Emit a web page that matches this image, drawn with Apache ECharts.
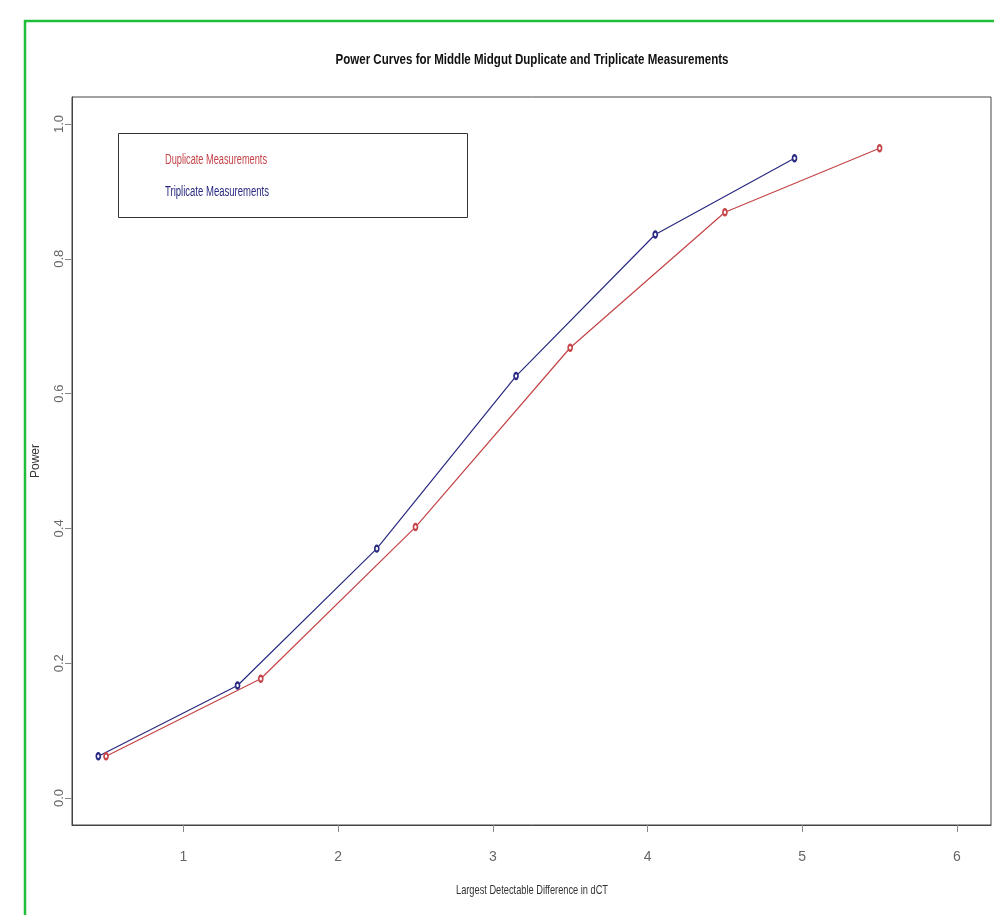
<!DOCTYPE html>
<html><head><meta charset="utf-8">
<script src="https://cdn.jsdelivr.net/npm/echarts@6/dist/echarts.min.js"></script>
<style>html,body{margin:0;padding:0;background:#fff}#c{width:994px;height:915px}</style>
</head><body><div id="c"></div>
<script>
const titleText = 'Power Curves for Middle Midgut Duplicate and Triplicate Measurements';
const xTicks = [1, 2, 3, 4, 5, 6];
const yTicks = [0, 0.2, 0.4, 0.6, 0.8, 1.0];
const dupX = [0.5, 1.5, 2.5, 3.5, 4.5, 5.5];
const dupY = [0.062, 0.177, 0.402, 0.668, 0.869, 0.964];
const triX = [0.45, 1.35, 2.25, 3.15, 4.05, 4.95];
const triY = [0.062, 0.167, 0.370, 0.626, 0.836, 0.949];
const seriesNames = ['Duplicate Measurements', 'Triplicate Measurements'];
const xName = 'Largest Detectable Difference in dCT';
const yName = 'Power';

const RED = '#c44448', BLUE = '#2a2a82';
const FONT = '"Liberation Sans", Arial, sans-serif';
const ctx = document.createElement('canvas').getContext('2d');
function fitScale(text, weight, size, target) {
  ctx.font = weight + ' ' + size + 'px "Liberation Sans", Arial, sans-serif';
  return target / ctx.measureText(text).width;
}
function squeezedText(text, x, y, opts) {
  const weight = opts.weight || 'normal';
  const sc = fitScale(text, weight, opts.size, opts.width);
  return {type: 'text', x: x, y: y, scaleX: sc, silent: true,
    style: {text: text, fontFamily: FONT, fontWeight: weight, fontSize: opts.size,
      fill: opts.color, textAlign: opts.align || 'left', textVerticalAlign: 'middle'}};
}

const chart = echarts.init(document.getElementById('c'), null, {renderer: 'canvas'});
const pair = (xs, ys) => xs.map((x, i) => [x, ys[i]]);
chart.setOption({
  animation: false,
  backgroundColor: '#fff',
  grid: {left: 72, top: 97, right: 3, bottom: 90, show: true, borderColor: '#444', borderWidth: 1, backgroundColor: 'transparent'},
  graphic: [
    {type: 'rect', shape: {x: 25, y: 21, width: 1100, height: 1000}, style: {fill: 'none', stroke: '#1fbf3a', lineWidth: 2.5}, silent: true},
    {type: 'rect', shape: {x: 118.5, y: 133.5, width: 349, height: 84}, style: {fill: 'none', stroke: '#333', lineWidth: 1}, silent: true},
    squeezedText(titleText, 532, 60, {weight: 'bold', size: 15, width: 393, color: '#111', align: 'center'}),
    squeezedText(seriesNames[0], 165, 160, {size: 14, width: 102, color: RED}),
    squeezedText(seriesNames[1], 165, 192, {size: 14, width: 104, color: BLUE}),
    squeezedText(xName, 532, 890, {size: 13, width: 152, color: '#333', align: 'center'})
  ],
  xAxis: {
    type: 'value', min: 0.28, max: 6.22,
    axisLine: {show: true, onZero: false, lineStyle: {color: '#444'}},
    axisTick: {show: true, length: 7, lineStyle: {color: '#888'}, customValues: xTicks},
    axisLabel: {customValues: xTicks, margin: 25, fontFamily: FONT, fontSize: 14, color: '#666'},
    splitLine: {show: false}
  },
  yAxis: {
    type: 'value', min: -0.04, max: 1.04,
    name: yName, nameLocation: 'middle', nameGap: 30, nameRotate: 90,
    nameTextStyle: {fontFamily: FONT, fontSize: 12, color: '#333'},
    axisLine: {show: true, onZero: false, lineStyle: {color: '#444'}},
    axisTick: {show: true, length: 7, lineStyle: {color: '#888'}, customValues: yTicks},
    axisLabel: {customValues: yTicks, rotate: 90, align: 'center', verticalAlign: 'bottom', margin: 6,
      fontFamily: FONT, fontSize: 13, color: '#666',
      formatter: v => v.toFixed(1)},
    splitLine: {show: false}
  },
  series: [
    {name: seriesNames[0], type: 'line', data: pair(dupX, dupY), symbol: 'emptyCircle', symbolSize: [4, 6],
      lineStyle: {color: RED, width: 1.2}, itemStyle: {color: RED, borderWidth: 0.7}},
    {name: seriesNames[1], type: 'line', data: pair(triX, triY), symbol: 'emptyCircle', symbolSize: [4, 6],
      lineStyle: {color: BLUE, width: 1.2}, itemStyle: {color: BLUE, borderWidth: 0.7}}
  ]
});
</script></body></html>
